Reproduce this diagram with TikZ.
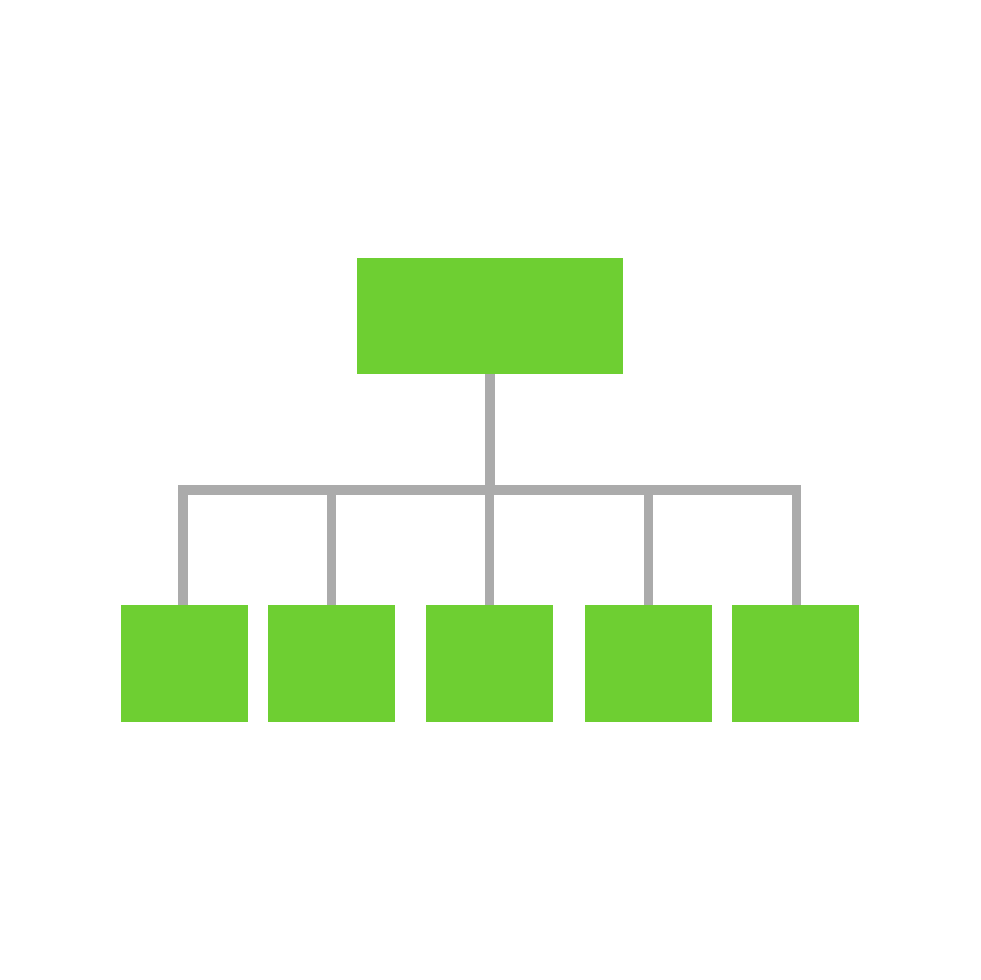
\documentclass[tikz,border=0pt]{standalone}
\definecolor{boxgreen}{HTML}{6ECF32}
\definecolor{linegray}{HTML}{ABABAB}
\begin{document}
\begin{tikzpicture}[x=1pt,y=-1pt,
  box/.style={rectangle,fill=boxgreen,draw=none,inner sep=0pt,minimum width=127pt,minimum height=117pt},
  topbox/.style={box,minimum width=266pt,minimum height=116pt},
  link/.style={draw=linegray,line width=9.5pt,line join=miter}]
\useasboundingbox[fill=white] (0,0) rectangle (980,980);
\node[topbox] (top) at (490,316) {};
\node[box] (c1) at (184.5,663.5) {};
\node[box] (c2) at (331.5,663.5) {};
\node[box] (c3) at (489.5,663.5) {};
\node[box] (c4) at (648.5,663.5) {};
\node[box] (c5) at (795.5,663.5) {};
\coordinate (bus) at (490,490);
\draw[link] (top.south) -- (bus);
\draw[link] ([xshift=-1.5pt]c1.north) |- (bus);
\draw[link] ([xshift=1pt]c5.north) |- (bus);
\draw[link] (c2.north) -- (c2.north |- bus);
\draw[link] (c3.north) -- (c3.north |- bus);
\draw[link] (c4.north) -- (c4.north |- bus);
\end{tikzpicture}
\end{document}
